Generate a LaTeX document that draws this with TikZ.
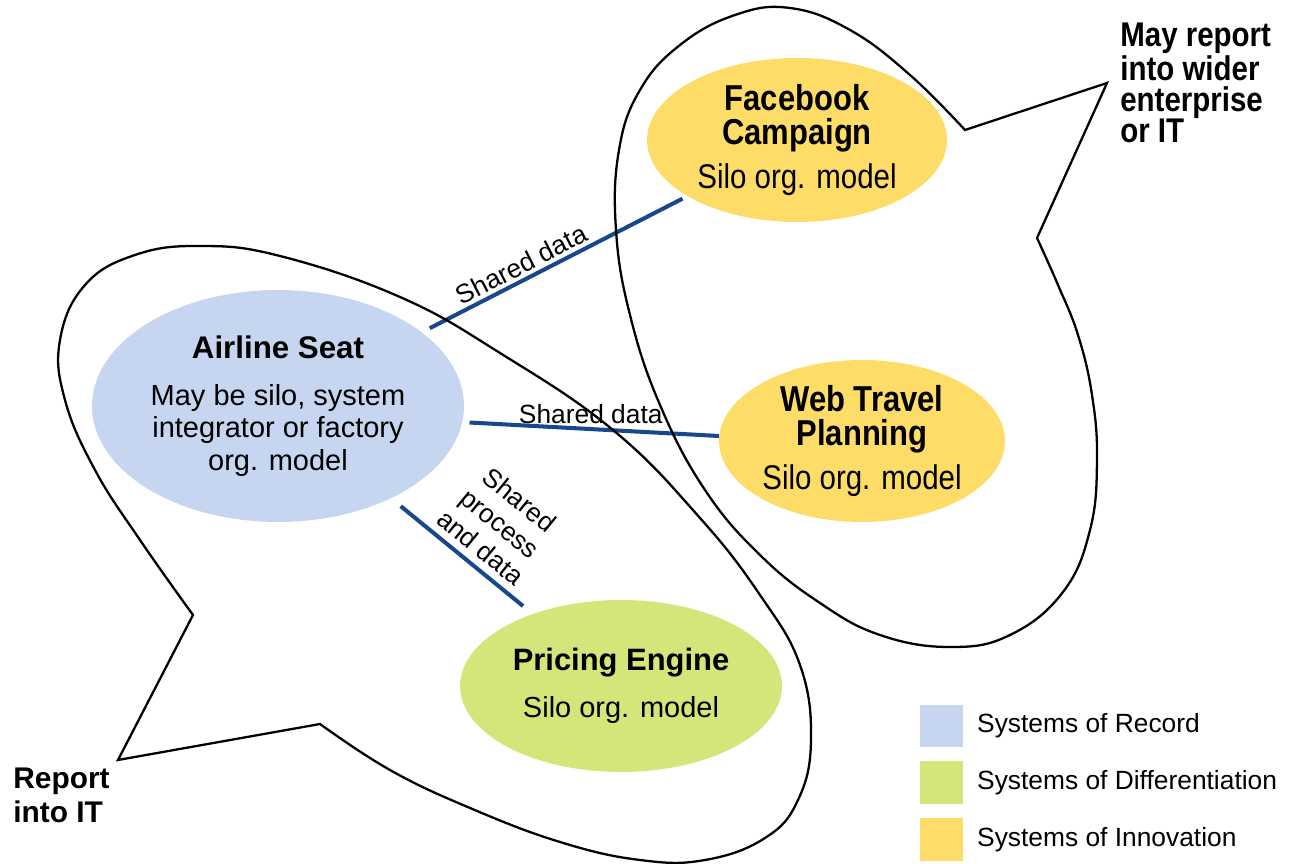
\documentclass[tikz,border=0pt]{standalone}
\usepackage{fontspec}
\setmainfont{Liberation Sans}
\newfontfamily\narrowsans[FakeStretch=0.86]{Liberation Sans}
\usetikzlibrary{shapes.geometric}
\usetikzlibrary{positioning}

\definecolor{recordblue}{RGB}{198,214,240}
\definecolor{diffgreen}{RGB}{212,230,122}
\definecolor{innoyellow}{RGB}{253,220,104}
\definecolor{linkblue}{RGB}{24,72,140}

\begin{document}
\begin{tikzpicture}[x=0.02cm, y=-0.02cm,
    system/.style={ellipse, inner sep=0pt, align=center},
    widefont/.style={font=\fontsize{16.5}{18.5}\selectfont},
    narrowfont/.style={font=\narrowsans\fontsize{19.5}{19}\selectfont},
    link/.style={linkblue, line width=2.3pt},
    bubble/.style={black, line width=1.3pt, line join=miter},
    tag/.style={text=black, font=\fontsize{15}{17.5}\selectfont, inner sep=2pt},
    legbox/.style={minimum size=0.86cm, inner sep=0pt},
    legtext/.style={font=\fontsize{15}{17}\selectfont, inner sep=0pt}]
    \useasboundingbox (0,0) rectangle (1289,864);

    % systems
    \node (seat) [system, widefont, fill=recordblue, minimum width=7.44cm, minimum height=4.64cm] at (278,406)
        {{\fontsize{17.8}{20}\selectfont\bfseries Airline Seat}\\[8pt]May be silo, system\\integrator or factory\\org. model};
    \node (fb) [system, narrowfont, fill=innoyellow, minimum width=6cm, minimum height=3.28cm] at (797,140)
        {{\fontsize{20.5}{19}\selectfont\bfseries Facebook}\\{\fontsize{20.5}{19}\selectfont\bfseries Campaign}\\[6pt]Silo org. model};
    \node (web) [system, narrowfont, fill=innoyellow, minimum width=5.72cm, minimum height=3.24cm] at (862,441)
        {{\fontsize{20.5}{19}\selectfont\bfseries Web Travel}\\{\fontsize{20.5}{19}\selectfont\bfseries Planning}\\[6pt]Silo org. model};
    \node (price) [system, widefont, fill=diffgreen, minimum width=6.44cm, minimum height=3.44cm] at (621,686)
        {{\fontsize{17.6}{20}\selectfont\bfseries Pricing Engine}\\[8pt]Silo org. model};

    % shared data links
    \draw[link, shorten <=5pt, shorten >=3pt] (seat) -- (fb)
        node[tag, pos=0.4, above, sloped] {Shared data};
    \draw[link, shorten <=4pt] (seat.-5) -- (web.178)
        node[tag, midway, above] {Shared data};
    \draw[link, shorten <=7pt, shorten >=7pt] (seat) -- (price)
        node[tag, pos=0.55, above, sloped, align=center, inner sep=4pt] {Shared\\process\\and data};

    % callouts
    \draw[bubble] plot[smooth, tension=0.7] coordinates {(193,615) (140,540) (95,470) (65,400) (60,340)
        (85,285) (135,255) (200,246) (280,256) (400,297) (500,353) (613,430) (700,518) (760,595)
        (800,665) (811,740) (798,800) (765,838) (705,860) (640,860) (560,842) (470,808) (390,770) (320,724)}
        -- (118,760) -- cycle;
    \draw[bubble] plot[smooth, tension=0.7] coordinates {(1037,238) (1058,285) (1078,335) (1092,395)
        (1097,460) (1090,530) (1063,592) (1010,635) (950,647) (880,635) (820,603) (760,555) (705,490)
        (660,405) (630,315) (616,230) (619,150) (640,90) (680,45) (735,15) (790,8) (850,30) (910,75) (965,130)}
        -- (1107,83) -- cycle;

    \node (itnote) [font=\fontsize{17}{19.3}\selectfont\bfseries, inner sep=0pt, anchor=west, align=left] at (13,795)
        {Report\\into IT};
    \node (widernote) [font=\narrowsans\fontsize{19.5}{17.6}\selectfont\bfseries, inner sep=0pt, anchor=north west, align=left] at (1120,23)
        {May report\\into wider\\enterprise\\or IT};

    % legend
    \node (legrec) [legbox, fill=recordblue] at (941,726) {};
    \node (legdiff) [legbox, fill=diffgreen, below=0.26cm of legrec] {};
    \node (leginno) [legbox, fill=innoyellow, below=0.26cm of legdiff] {};
    \node (recname) [legtext, right=0.28cm of legrec] {Systems of Record};
    \node (diffname) [legtext, right=0.28cm of legdiff] {Systems of Differentiation};
    \node (inoname) [legtext, right=0.28cm of leginno] {Systems of Innovation};
\end{tikzpicture}
\end{document}
